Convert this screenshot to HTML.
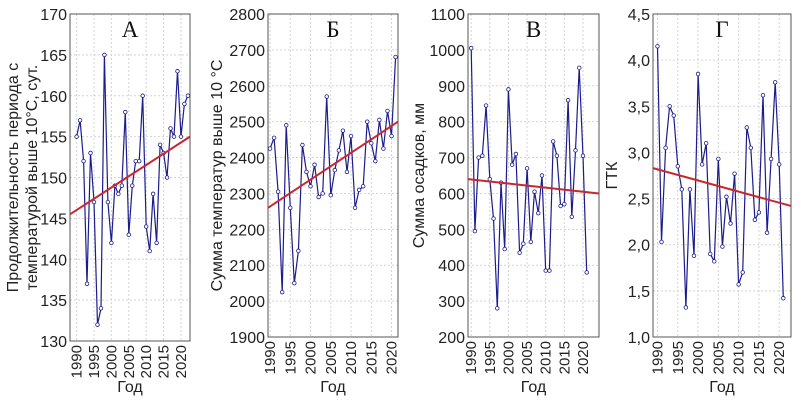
<!DOCTYPE html>
<html><head><meta charset="utf-8">
<style>
body{margin:0;background:#fff;}
svg{display:block;font-family:"Liberation Sans",Arial,sans-serif;}
</style></head>
<body>
<svg id="chart" width="801" height="401" viewBox="0 0 801 401" xmlns="http://www.w3.org/2000/svg"></svg>
<script>
const valuesA=[155,157,152,137,153,147,132,134,165,147,142,149,148,149,158,143,149,152,152,160,144,141,148,142,154,153,150,156,155,163,155,159,160];
const valuesB=[2425,2455,2305,2025,2490,2260,2050,2140,2435,2360,2320,2380,2290,2300,2570,2295,2365,2420,2475,2360,2460,2260,2310,2320,2500,2440,2390,2505,2425,2530,2460,2680];
const valuesC=[1005,495,700,705,845,640,530,280,630,445,890,680,710,435,460,670,465,605,545,650,385,385,745,705,565,570,860,535,720,950,705,380];
const valuesD=[4.15,2.03,3.05,3.5,3.4,2.85,2.6,1.32,2.6,1.88,3.85,2.87,3.1,1.9,1.82,2.93,1.98,2.52,2.23,2.77,1.57,1.7,3.27,3.05,2.27,2.35,3.62,2.13,2.93,3.76,2.87,1.42];
const trendA=[145.5,155];
const trendB=[2260,2500];
const trendC=[640,600];
const trendD=[2.83,2.42];
const ticksA=[130,135,140,145,150,155,160,165,170];
const ticksB=[1900,2000,2100,2200,2300,2400,2500,2600,2700,2800];
const ticksC=[200,300,400,500,600,700,800,900,1000,1100];
const ticksD=[1.0,1.5,2.0,2.5,3.0,3.5,4.0,4.5];
const xTicks=[1990,1995,2000,2005,2010,2015,2020];
const startYear=1990;

const svg=document.getElementById('chart');
const NS='http://www.w3.org/2000/svg';
function mk(tag,attrs,parent){const e=document.createElementNS(NS,tag);for(const k in attrs)e.setAttribute(k,attrs[k]);(parent||svg).appendChild(e);return e;}

function panel(cfg){
  const g=mk('g',{});
  
  
  const {L,R,T,B,x0,x1,y0,y1}=cfg;
  const sx=v=>L+(v-x0)/(x1-x0)*(R-L);
  const sy=v=>B-(v-y0)/(y1-y0)*(B-T);
  cfg.ticks.forEach(t=>{
    const y=sy(t);
    const l=mk('line',{x1:L,x2:R,y1:y,y2:y,stroke:'#d4d4d4','stroke-dasharray':'2,2','stroke-width':1},g);
    
    
    const tx=mk('text',{x:L-3,y:y+6,'text-anchor':'end','font-size':16,fill:'#222'},g);
    tx.textContent=cfg.fmt(t);
    
    
  });
  xTicks.forEach(t=>{
    const x=sx(t);
    const l=mk('line',{x1:x,x2:x,y1:T,y2:B,stroke:'#d4d4d4','stroke-dasharray':'2,2','stroke-width':1},g);
    
    
    const tx=mk('text',{x:0,y:0,'text-anchor':'end','font-size':15,fill:'#222',transform:`translate(${x+5},${B+4}) rotate(-90)`},g);
    tx.textContent=t;
    
    
  });
  const fr=mk('rect',{x:L,y:T,width:R-L,height:B-T,fill:'none',stroke:'#555','stroke-width':1},g);
  
  
  const pts=cfg.vals.map((v,i)=>sx(startYear+i).toFixed(1)+','+sy(v).toFixed(1)).join(' ');
  const pl=mk('polyline',{points:pts,fill:'none',stroke:'#1c1c8c','stroke-width':1.2},g);
  
  
  cfg.vals.forEach((v,i)=>{
    const c=mk('circle',{cx:sx(startYear+i),cy:sy(v),r:1.8,fill:'#fff',stroke:'#1c1c8c','stroke-width':0.8},g);
    
    
  });
  const tl=mk('line',{x1:L,x2:R,y1:sy(cfg.trend[0]),y2:sy(cfg.trend[1]),stroke:'#c8282d','stroke-width':2},g);
  
  
  const lt=mk('text',{x:(L+R)/2,y:T+23,'text-anchor':'middle','font-size':23,'font-family':'"Liberation Serif",serif',fill:'#111'},g);
  lt.textContent=cfg.letter;
  
  
  const xt=mk('text',{x:(L+R)/2,y:392,'text-anchor':'middle','font-size':16,fill:'#222'},g);
  xt.textContent='Год';
  
  
  cfg.ytitle.forEach((s,i)=>{
    const yt=mk('text',{x:0,y:0,'text-anchor':'middle','font-size':16,fill:'#222',transform:`translate(${cfg.ytx[i]},${(T+B)/2}) rotate(-90)`},g);
    yt.textContent=s;
    
    
  });
}
panel({id:'a',L:70,R:190,T:14,B:341,x0:1988.1,x1:2022.6,y0:130,y1:170,vals:valuesA,trend:trendA,ticks:ticksA,fmt:t=>t,letter:'А',ytitle:['Продолжительность периода с','температурой выше 10°С, сут.'],ytx:[18,37]});
panel({id:'b',L:268,R:398,T:14,B:337,x0:1989.5,x1:2021.6,y0:1900,y1:2800,vals:valuesB,trend:trendB,ticks:ticksB,fmt:t=>t,letter:'Б',ytitle:['Сумма температур выше 10 °С'],ytx:[222]});
panel({id:'c',L:468,R:599,T:14,B:337,x0:1989.15,x1:2024.3,y0:200,y1:1100,vals:valuesC,trend:trendC,ticks:ticksC,fmt:t=>t,letter:'В',ytitle:['Сумма осадков, мм'],ytx:[424]});
panel({id:'d',L:653,R:791,T:14,B:337,x0:1988.9,x1:2022.9,y0:1,y1:4.5,vals:valuesD,trend:trendD,ticks:ticksD,fmt:t=>t.toFixed(1).replace('.',','),letter:'Г',ytitle:['ГТК'],ytx:[617]});
</script>
</body></html>
